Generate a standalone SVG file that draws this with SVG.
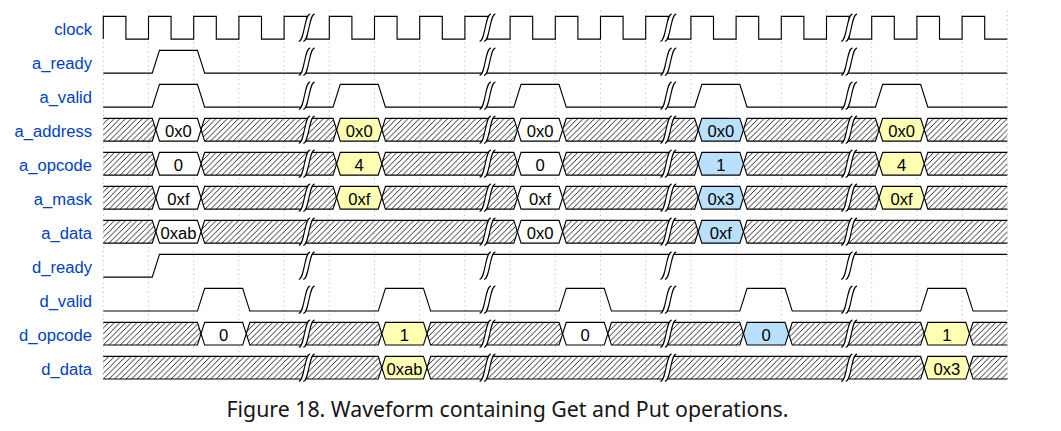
<svg xmlns="http://www.w3.org/2000/svg" xmlns:xlink="http://www.w3.org/1999/xlink" width="1061" height="431" viewBox="0 0 1061 431">
<style>
.lbl{font-family:"Liberation Sans",Arial,sans-serif;font-size:14.7px;fill:#0041c4;text-anchor:end}
.val{font-family:"Liberation Sans",Arial,sans-serif;font-size:14.7px;fill:#000;text-anchor:middle}
.w{fill:none;stroke:#000;stroke-width:1}
.x{fill:url(#hatch);stroke:#000;stroke-width:1}
.d2{fill:#fff;stroke:#000;stroke-width:1}
.d3{fill:#ffffb4;stroke:#000;stroke-width:1}
.d5{fill:#b9e0ff;stroke:#000;stroke-width:1}
.grid{stroke:#888;stroke-width:0.5;stroke-dasharray:1,3}
.cap{font-family:"Noto Sans","Open Sans",sans-serif;font-size:21.3px;fill:#161616;text-anchor:middle}
</style>
<defs>
<pattern id="hatch" patternUnits="userSpaceOnUse" width="5" height="5">
<path d="M0,5 L5,0 M-1,1 L1,-1 M4,6 L6,4" stroke="#000" stroke-width="0.75"/>
</pattern>
<g id="gap">
<path d="m 7,-2 -4,0 c -5,0 -5,24 -10,24 l 4,0 C 2,22 2,-2 7,-2 z" fill="#fff" stroke="none"/>
<path d="M -7,22 C -2,22 -2,-2 3,-2" fill="none" stroke="#000" stroke-width="1"/>
<path d="m -3,22 c 5,0 5,-24 10,-24" fill="none" stroke="#000" stroke-width="1"/>
</g>
<g id="gaps">
<use xlink:href="#gap" x="180"/><use xlink:href="#gap" x="340"/><use xlink:href="#gap" x="500"/><use xlink:href="#gap" x="660"/>
</g>
</defs>
<g transform="translate(103.3,16.4) scale(1.13,1.1333)">
<g id="grid">
<path class="grid" d="M0,-5V323M40,-5V323M80,-5V323M120,-5V323M160,-5V323M200,-5V323M240,-5V323M280,-5V323M320,-5V323M360,-5V323M400,-5V323M440,-5V323M480,-5V323M520,-5V323M560,-5V323M600,-5V323M640,-5V323M680,-5V323M720,-5V323M760,-5V323M800,-5V323"/>
</g>

<g id="clock">
<text class="lbl" x="-10" y="16">clock</text>
<path class="w" d="M0,20 V0 H20 V20 H40 V0 H60 V20 H80 V0 H100 V20 H120 V0 H140 V20 H160 V0 H180 V20 H200 V0 H220 V20 H240 V0 H260 V20 H280 V0 H300 V20 H320 V0 H340 V20 H360 V0 H380 V20 H400 V0 H420 V20 H440 V0 H460 V20 H480 V0 H500 V20 H520 V0 H540 V20 H560 V0 H580 V20 H600 V0 H620 V20 H640 V0 H660 V20 H680 V0 H700 V20 H720 V0 H740 V20 H760 V0 H780 V20 H800"/>
<use xlink:href="#gaps"/>
</g>

<g id="a_ready" transform="translate(0,30)">
<text class="lbl" x="-10" y="16">a_ready</text>
<path class="w" d="M0,20 H43.3 L49.7,0 H83.3 L89.7,20 H800"/>
<use xlink:href="#gaps"/>
</g>

<g id="a_valid" transform="translate(0,60)">
<text class="lbl" x="-10" y="16">a_valid</text>
<path class="w" d="M0,20 H43.3 L49.7,0 H83.3 L89.7,20 H203.3 L209.7,0 H243.3 L249.7,20 H363.3 L369.7,0 H403.3 L409.7,20 H523.3 L529.7,0 H563.3 L569.7,20 H683.3 L689.7,0 H723.3 L729.7,20 H800"/>
<use xlink:href="#gaps"/>
</g>

<g id="a_address" transform="translate(0,90)">
<text class="lbl" x="-10" y="16">a_address</text>
<path class="x" d="M0,0 H43.3 L46.5,10 L43.3,20 H0"/>
<path class="x" d="M86.5,10 L89.7,0 H203.3 L206.5,10 L203.3,20 H89.7 Z"/>
<path class="x" d="M246.5,10 L249.7,0 H363.3 L366.5,10 L363.3,20 H249.7 Z"/>
<path class="x" d="M406.5,10 L409.7,0 H523.3 L526.5,10 L523.3,20 H409.7 Z"/>
<path class="x" d="M566.5,10 L569.7,0 H683.3 L686.5,10 L683.3,20 H569.7 Z"/>
<path class="x" d="M800,0 H729.7 L726.5,10 L729.7,20 H800"/>
<path class="d2" d="M46.5,10 L49.7,0 H83.3 L86.5,10 L83.3,20 H49.7 Z"/>
<path class="d3" d="M206.5,10 L209.7,0 H243.3 L246.5,10 L243.3,20 H209.7 Z"/>
<path class="d2" d="M366.5,10 L369.7,0 H403.3 L406.5,10 L403.3,20 H369.7 Z"/>
<path class="d5" d="M526.5,10 L529.7,0 H563.3 L566.5,10 L563.3,20 H529.7 Z"/>
<path class="d3" d="M686.5,10 L689.7,0 H723.3 L726.5,10 L723.3,20 H689.7 Z"/>
<text class="val" x="66.5" y="16">0x0</text>
<text class="val" x="226.5" y="16">0x0</text>
<text class="val" x="386.5" y="16">0x0</text>
<text class="val" x="546.5" y="16">0x0</text>
<text class="val" x="706.5" y="16">0x0</text>
<use xlink:href="#gaps"/>
</g>

<g id="a_opcode" transform="translate(0,120)">
<text class="lbl" x="-10" y="16">a_opcode</text>
<path class="x" d="M0,0 H43.3 L46.5,10 L43.3,20 H0"/>
<path class="x" d="M86.5,10 L89.7,0 H203.3 L206.5,10 L203.3,20 H89.7 Z"/>
<path class="x" d="M246.5,10 L249.7,0 H363.3 L366.5,10 L363.3,20 H249.7 Z"/>
<path class="x" d="M406.5,10 L409.7,0 H523.3 L526.5,10 L523.3,20 H409.7 Z"/>
<path class="x" d="M566.5,10 L569.7,0 H683.3 L686.5,10 L683.3,20 H569.7 Z"/>
<path class="x" d="M800,0 H729.7 L726.5,10 L729.7,20 H800"/>
<path class="d2" d="M46.5,10 L49.7,0 H83.3 L86.5,10 L83.3,20 H49.7 Z"/>
<path class="d3" d="M206.5,10 L209.7,0 H243.3 L246.5,10 L243.3,20 H209.7 Z"/>
<path class="d2" d="M366.5,10 L369.7,0 H403.3 L406.5,10 L403.3,20 H369.7 Z"/>
<path class="d5" d="M526.5,10 L529.7,0 H563.3 L566.5,10 L563.3,20 H529.7 Z"/>
<path class="d3" d="M686.5,10 L689.7,0 H723.3 L726.5,10 L723.3,20 H689.7 Z"/>
<text class="val" x="66.5" y="16">0</text>
<text class="val" x="226.5" y="16">4</text>
<text class="val" x="386.5" y="16">0</text>
<text class="val" x="546.5" y="16">1</text>
<text class="val" x="706.5" y="16">4</text>
<use xlink:href="#gaps"/>
</g>

<g id="a_mask" transform="translate(0,150)">
<text class="lbl" x="-10" y="16">a_mask</text>
<path class="x" d="M0,0 H43.3 L46.5,10 L43.3,20 H0"/>
<path class="x" d="M86.5,10 L89.7,0 H203.3 L206.5,10 L203.3,20 H89.7 Z"/>
<path class="x" d="M246.5,10 L249.7,0 H363.3 L366.5,10 L363.3,20 H249.7 Z"/>
<path class="x" d="M406.5,10 L409.7,0 H523.3 L526.5,10 L523.3,20 H409.7 Z"/>
<path class="x" d="M566.5,10 L569.7,0 H683.3 L686.5,10 L683.3,20 H569.7 Z"/>
<path class="x" d="M800,0 H729.7 L726.5,10 L729.7,20 H800"/>
<path class="d2" d="M46.5,10 L49.7,0 H83.3 L86.5,10 L83.3,20 H49.7 Z"/>
<path class="d3" d="M206.5,10 L209.7,0 H243.3 L246.5,10 L243.3,20 H209.7 Z"/>
<path class="d2" d="M366.5,10 L369.7,0 H403.3 L406.5,10 L403.3,20 H369.7 Z"/>
<path class="d5" d="M526.5,10 L529.7,0 H563.3 L566.5,10 L563.3,20 H529.7 Z"/>
<path class="d3" d="M686.5,10 L689.7,0 H723.3 L726.5,10 L723.3,20 H689.7 Z"/>
<text class="val" x="66.5" y="16">0xf</text>
<text class="val" x="226.5" y="16">0xf</text>
<text class="val" x="386.5" y="16">0xf</text>
<text class="val" x="546.5" y="16">0x3</text>
<text class="val" x="706.5" y="16">0xf</text>
<use xlink:href="#gaps"/>
</g>

<g id="a_data" transform="translate(0,180)">
<text class="lbl" x="-10" y="16">a_data</text>
<path class="x" d="M0,0 H43.3 L46.5,10 L43.3,20 H0"/>
<path class="x" d="M86.5,10 L89.7,0 H363.3 L366.5,10 L363.3,20 H89.7 Z"/>
<path class="x" d="M406.5,10 L409.7,0 H523.3 L526.5,10 L523.3,20 H409.7 Z"/>
<path class="x" d="M800,0 H569.7 L566.5,10 L569.7,20 H800"/>
<path class="d2" d="M46.5,10 L49.7,0 H83.3 L86.5,10 L83.3,20 H49.7 Z"/>
<path class="d2" d="M366.5,10 L369.7,0 H403.3 L406.5,10 L403.3,20 H369.7 Z"/>
<path class="d5" d="M526.5,10 L529.7,0 H563.3 L566.5,10 L563.3,20 H529.7 Z"/>
<text class="val" x="66.5" y="16">0xab</text>
<text class="val" x="386.5" y="16">0x0</text>
<text class="val" x="546.5" y="16">0xf</text>
<use xlink:href="#gaps"/>
</g>

<g id="d_ready" transform="translate(0,210)">
<text class="lbl" x="-10" y="16">d_ready</text>
<path class="w" d="M0,20 H43.3 L49.7,0 H800"/>
<use xlink:href="#gaps"/>
</g>

<g id="d_valid" transform="translate(0,240)">
<text class="lbl" x="-10" y="16">d_valid</text>
<path class="w" d="M0,20 H83.3 L89.7,0 H123.3 L129.7,20 H243.3 L249.7,0 H283.3 L289.7,20 H403.3 L409.7,0 H443.3 L449.7,20 H563.3 L569.7,0 H603.3 L609.7,20 H723.3 L729.7,0 H763.3 L769.7,20 H800"/>
<use xlink:href="#gaps"/>
</g>

<g id="d_opcode" transform="translate(0,270)">
<text class="lbl" x="-10" y="16">d_opcode</text>
<path class="x" d="M0,0 H83.3 L86.5,10 L83.3,20 H0"/>
<path class="x" d="M126.5,10 L129.7,0 H243.3 L246.5,10 L243.3,20 H129.7 Z"/>
<path class="x" d="M286.5,10 L289.7,0 H403.3 L406.5,10 L403.3,20 H289.7 Z"/>
<path class="x" d="M446.5,10 L449.7,0 H563.3 L566.5,10 L563.3,20 H449.7 Z"/>
<path class="x" d="M606.5,10 L609.7,0 H723.3 L726.5,10 L723.3,20 H609.7 Z"/>
<path class="x" d="M800,0 H769.7 L766.5,10 L769.7,20 H800"/>
<path class="d2" d="M86.5,10 L89.7,0 H123.3 L126.5,10 L123.3,20 H89.7 Z"/>
<path class="d3" d="M246.5,10 L249.7,0 H283.3 L286.5,10 L283.3,20 H249.7 Z"/>
<path class="d2" d="M406.5,10 L409.7,0 H443.3 L446.5,10 L443.3,20 H409.7 Z"/>
<path class="d5" d="M566.5,10 L569.7,0 H603.3 L606.5,10 L603.3,20 H569.7 Z"/>
<path class="d3" d="M726.5,10 L729.7,0 H763.3 L766.5,10 L763.3,20 H729.7 Z"/>
<text class="val" x="106.5" y="16">0</text>
<text class="val" x="266.5" y="16">1</text>
<text class="val" x="426.5" y="16">0</text>
<text class="val" x="586.5" y="16">0</text>
<text class="val" x="746.5" y="16">1</text>
<use xlink:href="#gaps"/>
</g>

<g id="d_data" transform="translate(0,300)">
<text class="lbl" x="-10" y="16">d_data</text>
<path class="x" d="M0,0 H243.3 L246.5,10 L243.3,20 H0"/>
<path class="x" d="M286.5,10 L289.7,0 H723.3 L726.5,10 L723.3,20 H289.7 Z"/>
<path class="x" d="M800,0 H769.7 L766.5,10 L769.7,20 H800"/>
<path class="d3" d="M246.5,10 L249.7,0 H283.3 L286.5,10 L283.3,20 H249.7 Z"/>
<path class="d3" d="M726.5,10 L729.7,0 H763.3 L766.5,10 L763.3,20 H729.7 Z"/>
<text class="val" x="266.5" y="16">0xab</text>
<text class="val" x="746.5" y="16">0x3</text>
<use xlink:href="#gaps"/>
</g>
</g>

<text id="caption" class="cap" x="507.5" y="417">Figure 18. Waveform containing Get and Put operations.</text>
</svg>
